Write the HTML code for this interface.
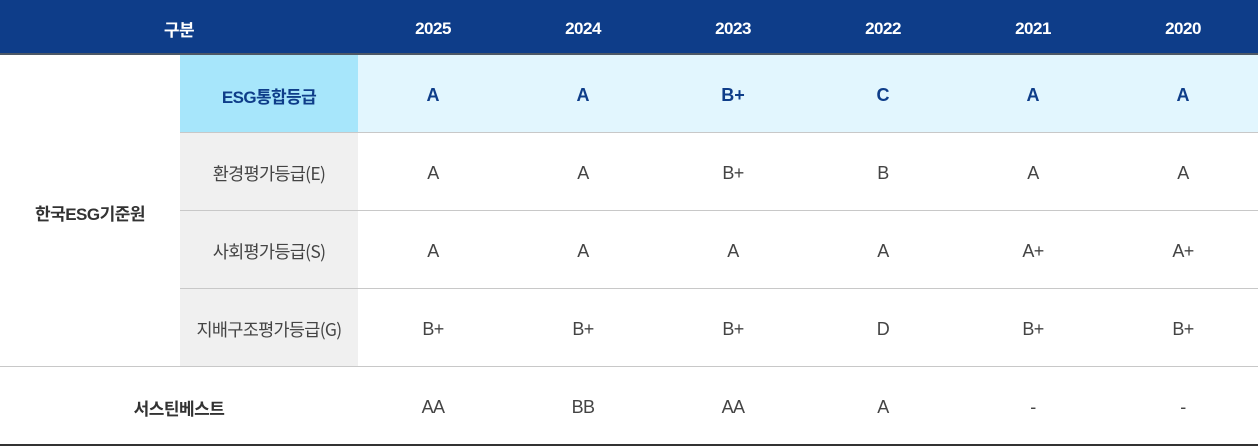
<!DOCTYPE html>
<html><head><meta charset="utf-8">
<style>
*{margin:0;padding:0;box-sizing:border-box}
body{width:1258px;height:446px;background:#fff;overflow:hidden;position:relative;font-family:"Liberation Sans","Noto Sans CJK KR",sans-serif}
.a{position:absolute;display:flex;align-items:center;justify-content:center;white-space:nowrap;padding-top:3px}
.hd{position:absolute;left:0;top:0;width:1258px;height:53px;background:#0e3d89}
.hl{position:absolute;left:0;top:53px;width:1258px;height:2px;background:#4d5866}
.h{color:#fff;font-weight:bold;font-size:17px;top:0;height:53px;letter-spacing:-0.5px;padding-top:4px}
.ln{position:absolute;height:1px;background:#c8c8c8}
.v{font-size:18px;color:#444;letter-spacing:-0.6px}
.b{font-size:18px;color:#0e3d89;font-weight:bold}
.lab{font-size:17.5px;color:#444;letter-spacing:-0.7px;font-family:"Noto Sans CJK KR","Liberation Sans",sans-serif;font-weight:400}
</style></head><body>
<div class="hd"></div><div class="hl"></div>
<div class="a h" style="left:0;width:358px">구분</div>
<div class="a h" style="left:358px;width:150px">2025</div>
<div class="a h" style="left:508px;width:150px">2024</div>
<div class="a h" style="left:658px;width:150px">2023</div>
<div class="a h" style="left:808px;width:150px">2022</div>
<div class="a h" style="left:958px;width:150px">2021</div>
<div class="a h" style="left:1108px;width:150px">2020</div>

<div style="position:absolute;left:358px;top:55px;width:900px;height:77px;background:#e2f6fe"></div>
<div style="position:absolute;left:180px;top:55px;width:178px;height:77px;background:#a7e6fb"></div>
<div style="position:absolute;left:180px;top:133px;width:178px;height:233px;background:#f0f0f0"></div>

<div class="ln" style="left:180px;top:132px;width:1078px"></div>
<div class="ln" style="left:180px;top:210px;width:1078px"></div>
<div class="ln" style="left:180px;top:288px;width:1078px"></div>
<div class="ln" style="left:0;top:366px;width:1258px"></div>
<div style="position:absolute;left:0;top:444px;width:1258px;height:2px;background:#333"></div>

<div class="a" style="left:0;top:55px;width:180px;height:311px;font-size:17px;font-weight:bold;color:#333;letter-spacing:-0.5px">한국ESG기준원</div>
<div class="a" style="left:0;top:367px;width:358px;height:77px;font-size:17px;font-weight:bold;color:#333;letter-spacing:-0.5px">서스틴베스트</div>

<div class="a b" style="left:180px;top:55px;width:178px;height:77px;font-size:17px;letter-spacing:-0.6px">ESG통합등급</div>
<div class="a b" style="left:358px;top:55px;width:150px;height:77px">A</div>
<div class="a b" style="left:508px;top:55px;width:150px;height:77px">A</div>
<div class="a b" style="left:658px;top:55px;width:150px;height:77px">B+</div>
<div class="a b" style="left:808px;top:55px;width:150px;height:77px">C</div>
<div class="a b" style="left:958px;top:55px;width:150px;height:77px">A</div>
<div class="a b" style="left:1108px;top:55px;width:150px;height:77px">A</div>

<div class="a lab" style="left:180px;top:133px;width:178px;height:77px">환경평가등급(E)</div>
<div class="a v" style="left:358px;top:133px;width:150px;height:77px">A</div>
<div class="a v" style="left:508px;top:133px;width:150px;height:77px">A</div>
<div class="a v" style="left:658px;top:133px;width:150px;height:77px">B+</div>
<div class="a v" style="left:808px;top:133px;width:150px;height:77px">B</div>
<div class="a v" style="left:958px;top:133px;width:150px;height:77px">A</div>
<div class="a v" style="left:1108px;top:133px;width:150px;height:77px">A</div>

<div class="a lab" style="left:180px;top:211px;width:178px;height:77px">사회평가등급(S)</div>
<div class="a v" style="left:358px;top:211px;width:150px;height:77px">A</div>
<div class="a v" style="left:508px;top:211px;width:150px;height:77px">A</div>
<div class="a v" style="left:658px;top:211px;width:150px;height:77px">A</div>
<div class="a v" style="left:808px;top:211px;width:150px;height:77px">A</div>
<div class="a v" style="left:958px;top:211px;width:150px;height:77px">A+</div>
<div class="a v" style="left:1108px;top:211px;width:150px;height:77px">A+</div>

<div class="a lab" style="left:180px;top:289px;width:178px;height:77px">지배구조평가등급(G)</div>
<div class="a v" style="left:358px;top:289px;width:150px;height:77px">B+</div>
<div class="a v" style="left:508px;top:289px;width:150px;height:77px">B+</div>
<div class="a v" style="left:658px;top:289px;width:150px;height:77px">B+</div>
<div class="a v" style="left:808px;top:289px;width:150px;height:77px">D</div>
<div class="a v" style="left:958px;top:289px;width:150px;height:77px">B+</div>
<div class="a v" style="left:1108px;top:289px;width:150px;height:77px">B+</div>

<div class="a v" style="left:358px;top:367px;width:150px;height:77px">AA</div>
<div class="a v" style="left:508px;top:367px;width:150px;height:77px">BB</div>
<div class="a v" style="left:658px;top:367px;width:150px;height:77px">AA</div>
<div class="a v" style="left:808px;top:367px;width:150px;height:77px">A</div>
<div class="a v" style="left:958px;top:367px;width:150px;height:77px">-</div>
<div class="a v" style="left:1108px;top:367px;width:150px;height:77px">-</div>
</body></html>
